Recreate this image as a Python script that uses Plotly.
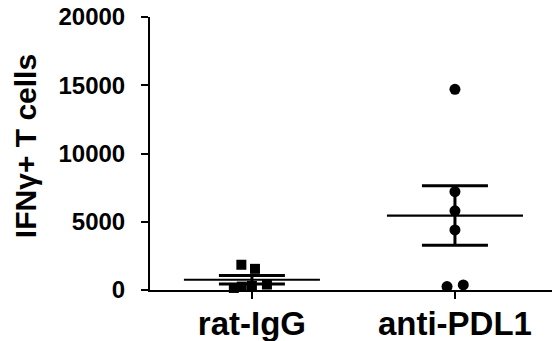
import numpy as np
import plotly.graph_objects as go

categories = ["rat-IgG", "anti-PDL1"]
rat_igg_values = [1850, 1550, 150, 250, 300, 400]
anti_pdl1_values = [14700, 7200, 5800, 4400, 250, 370]
y_tick_values = [0, 5000, 10000, 15000, 20000]
y_title = "IFNγ+ T cells"

# horizontal scatter offsets (layout only)
rat_offsets = [-0.052, 0.015, -0.089, -0.050, 0.0, 0.074]
pdl1_offsets = [0.0, 0.0, 0.0, 0.0, -0.039, 0.041]

bold = dict(family="Liberation Sans, Arial, sans-serif", color="black", weight="bold")

fig = go.Figure()

groups = [
    (0, rat_igg_values, rat_offsets, "square", 10),
    (1, anti_pdl1_values, pdl1_offsets, "circle", 11),
]
for pos, vals, offs, sym, size in groups:
    v = np.array(vals, dtype=float)
    mean = v.mean()
    sem = v.std(ddof=1) / np.sqrt(len(v))
    # mean line (error_x without caps) + SEM bars
    fig.add_trace(go.Scatter(
        x=[pos], y=[mean], mode="markers",
        marker=dict(size=1, color="rgba(0,0,0,0)"),
        error_x=dict(type="constant", value=0.335, width=0, thickness=2.2, color="black"),
        error_y=dict(type="constant", value=sem, width=33, thickness=3, color="black"),
        showlegend=False, hoverinfo="skip", cliponaxis=False,
    ))
    fig.add_trace(go.Scatter(
        x=[pos + o for o in offs], y=vals, mode="markers",
        marker=dict(symbol=sym, size=size, color="black", line=dict(width=0)),
        showlegend=False, cliponaxis=False,
    ))

fig.update_layout(
    width=552, height=341,
    margin=dict(l=150, r=0, t=17, b=51),
    paper_bgcolor="white", plot_bgcolor="white",
    xaxis=dict(
        range=[-0.502, 1.478], tickvals=[0, 1], ticktext=categories,
        showline=True, linewidth=2, linecolor="black",
        ticks="outside", ticklen=7, tickwidth=2, tickcolor="black",
        showgrid=False, zeroline=False,
        tickfont=dict(size=33, **bold),
        ticklabelstandoff=-4,
    ),
    yaxis=dict(
        range=[0, 20000], tickvals=y_tick_values,
        ticktext=[str(v) for v in y_tick_values],
        showline=True, linewidth=2, linecolor="black",
        ticks="outside", ticklen=7, tickwidth=2, tickcolor="black",
        showgrid=False, zeroline=False,
        tickfont=dict(size=24, **bold),
        ticklabelstandoff=11,
    ),
    annotations=[dict(
        text=y_title, textangle=-90, showarrow=False,
        xref="paper", yref="paper", x=0, y=0.527,
        xanchor="center", yanchor="middle", xshift=-125,
        font=dict(size=30, **bold),
    )],
)

fig.write_html("out.html", config={"displayModeBar": False},
               post_script="document.body.style.margin='0';")
